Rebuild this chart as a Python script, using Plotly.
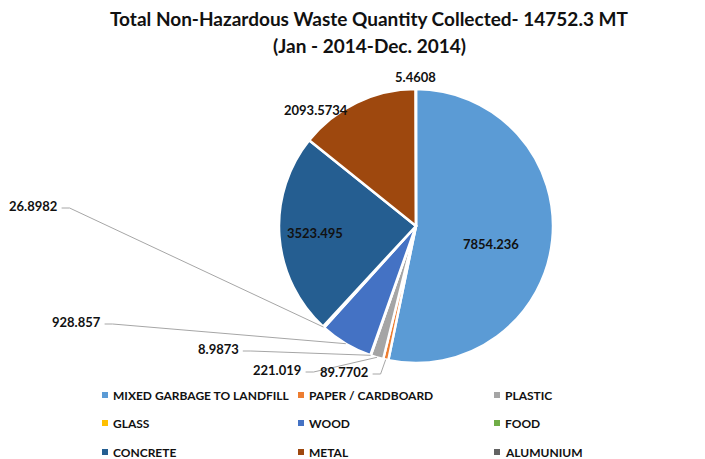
import math
import plotly.graph_objects as go

# Waste streams collected in 2014 (metric tonnes)
categories = ["MIXED GARBAGE TO LANDFILL", "PAPER / CARDBOARD", "PLASTIC", "GLASS",
              "WOOD", "FOOD", "CONCRETE", "METAL", "ALUMUNIUM"]
quantities = [7854.236, 89.7702, 221.019, 8.9873, 928.857, 26.8982, 3523.495, 2093.5734, 5.4608]
colors = ["#5B9BD5", "#ED7D31", "#A5A5A5", "#FFC000", "#4472C4",
          "#70AD47", "#255E91", "#9E480E", "#636363"]
title_lines = ["Total Non-Hazardous Waste Quantity Collected- 14752.3 MT",
               "(Jan - 2014-Dec. 2014)"]

W, H = 705, 459
CX, CY, R = 416, 226, 137          # pie centre / radius in pixels
FONT = "Lato"
INK = "#111111"

# label placement: (x, y) of text centre, and whether a leader line is drawn
label_pos = {
    "MIXED GARBAGE TO LANDFILL": (491, 244, False),
    "PAPER / CARDBOARD": (344, 372, True),
    "PLASTIC": (277, 370, True),
    "GLASS": (218, 349, True),
    "WOOD": (76, 322, True),
    "FOOD": (33, 206, True),
    "CONCRETE": (315, 233, False),
    "METAL": (316, 110, False),
    "ALUMUNIUM": (415, 77, False),
}

fig = go.Figure()

fig.add_trace(go.Pie(
    labels=categories,
    values=quantities,
    sort=False,
    direction="clockwise",
    rotation=0,
    marker=dict(colors=colors, line=dict(color="white", width=2.5)),
    textinfo="none",
    hoverinfo="label+value+percent",
    showlegend=False,
    domain=dict(x=[(CX - R) / W, (CX + R) / W],
                y=[(H - CY - R) / H, (H - CY + R) / H]),
))

# data labels with leader lines to the middle of each small slice
total = sum(quantities)
cum = 0.0
annotations = []
shapes = []
for name, val in zip(categories, quantities):
    mid = (cum + val / 2) / total * 2 * math.pi
    cum += val
    lx, ly, leader = label_pos[name]
    txt = str(val)
    annotations.append(dict(x=lx, y=ly, xref="x", yref="y", text=f"<b>{txt}</b>",
                            showarrow=False,
                            font=dict(family=FONT, size=13, color=INK),
                            xanchor="center", yanchor="middle"))
    if leader:
        px = CX + R * math.sin(mid)
        py = CY - R * math.cos(mid)
        half = len(txt) * 3.8
        sx = lx + half + 2
        sy = ly + 2
        shapes.append(dict(type="path", xref="x", yref="y",
                           path=f"M {sx},{sy} L {sx + 8},{sy} L {px:.1f},{py:.1f}",
                           line=dict(color="#A6A6A6", width=1)))

# legend: three columns, three rows
col_x = [105, 301, 497]
row_y = [395, 423, 452]
lg_x = [col_x[i % 3] for i in range(len(categories))]
lg_y = [row_y[i // 3] for i in range(len(categories))]
fig.add_trace(go.Scatter(
    x=lg_x, y=lg_y, mode="markers",
    marker=dict(symbol="square", size=6, color=colors),
    hoverinfo="skip", showlegend=False,
))
for name, x, y in zip(categories, lg_x, lg_y):
    annotations.append(dict(x=x + 6, y=y, xref="x", yref="y", text=f"<b>{name}</b>",
                            showarrow=False,
                            font=dict(family=FONT, size=12, color=INK),
                            xanchor="left", yanchor="middle"))

# two-line chart title
for text, ty in zip(title_lines, [18, 45]):
    annotations.append(dict(x=369, y=ty, xref="x", yref="y", text=f"<b>{text}</b>",
                            showarrow=False,
                            font=dict(family=FONT, size=19, color=INK),
                            xanchor="center", yanchor="middle"))

fig.update_layout(
    width=W, height=H,
    margin=dict(l=0, r=0, t=0, b=0),
    paper_bgcolor="white", plot_bgcolor="rgba(0,0,0,0)",
    xaxis=dict(range=[0, W], domain=[0, 1], visible=False, fixedrange=True),
    yaxis=dict(range=[H, 0], domain=[0, 1], visible=False, fixedrange=True),
    annotations=annotations,
    shapes=shapes,
    font=dict(family=FONT),
)

fig.write_html("out.html")
